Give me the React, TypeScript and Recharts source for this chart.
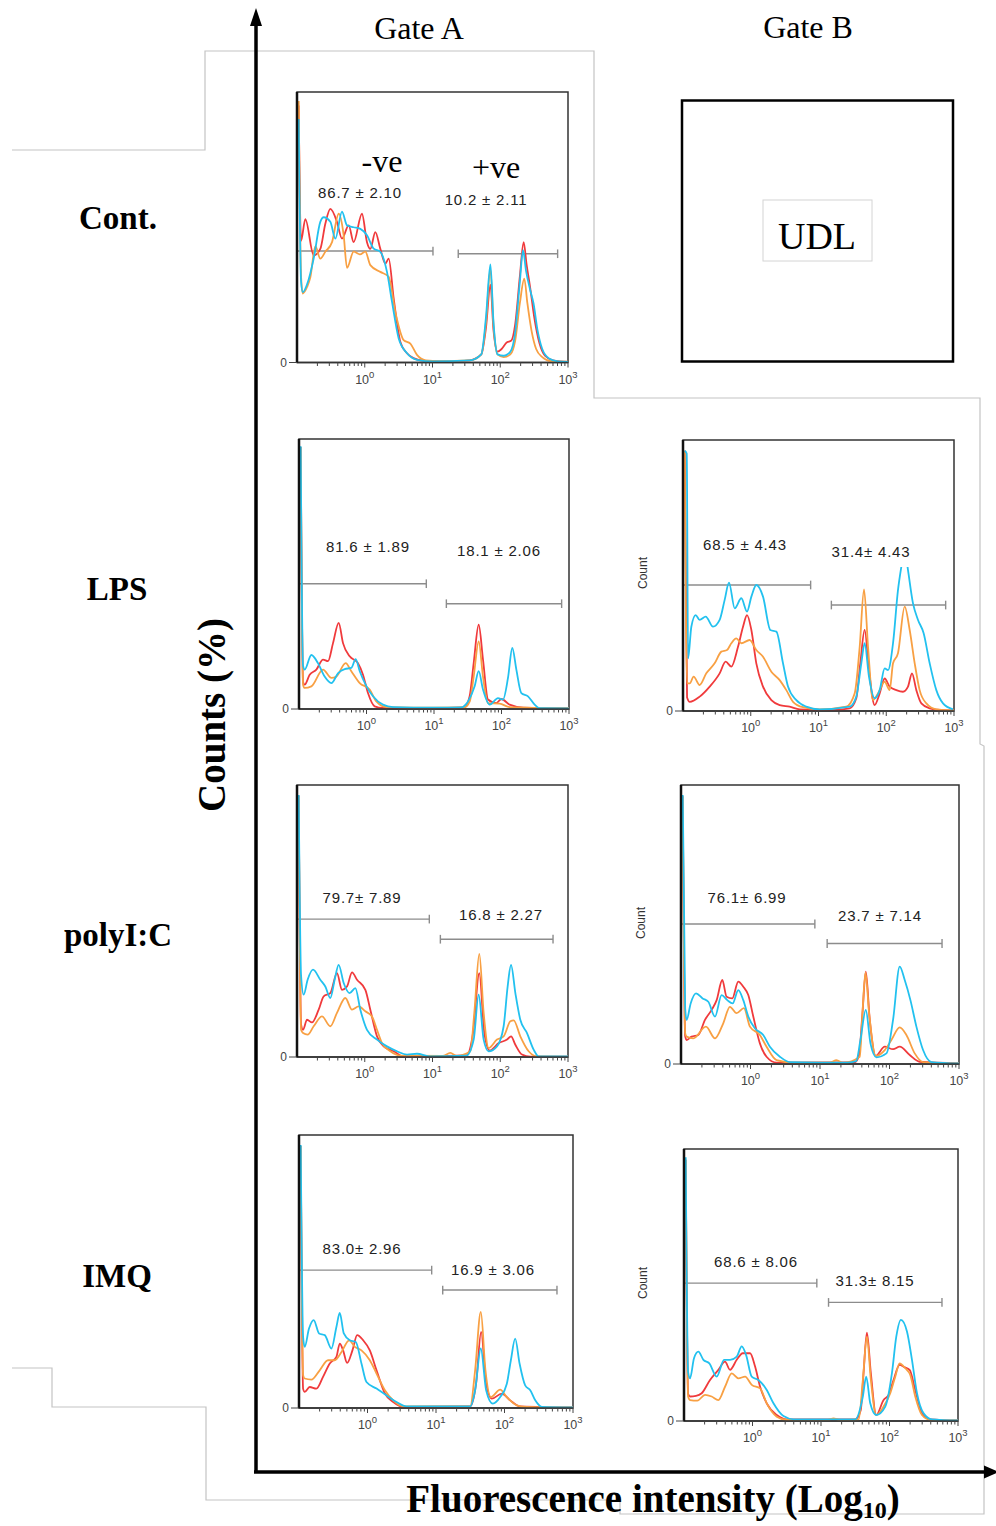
import React from "react";
import { LineChart, Line, XAxis, YAxis, ReferenceArea, ReferenceLine } from "recharts";

type Pt = [number, number];

const SANS = "'Liberation Sans', Arial, sans-serif";
const SERIF = "'Liberation Serif', 'Times New Roman', serif";
const RED = "#f03a3c";
const ORANGE = "#f8a043";
const CYAN = "#22c1ef";

// x = log10(fluorescence intensity), y = count (% of panel height)
const contA_red: Pt[] = [[-0.975, 95], [-0.94, 45], [-0.877, 53], [-0.754, 39.6], [-0.656, 42], [-0.582, 51.3], [-0.508, 56.8], [-0.41, 52], [-0.336, 45.8], [-0.237, 50.7], [-0.164, 44.5], [-0.041, 55], [0.033, 44.5], [0.082, 42], [0.156, 48.2], [0.23, 42], [0.304, 36.6], [0.353, 38.4], [0.427, 23.7], [0.525, 7.7], [0.62, 3.5], [0.72, 1.6], [0.9, 0.5], [1.3, 0.4], [1.55, 0.8], [1.72, 3], [1.79, 13], [1.855, 28.8], [1.9, 12], [1.96, 4], [2.02, 5], [2.1, 7.5], [2.16, 8], [2.22, 14], [2.29, 32], [2.345, 44.5], [2.39, 36], [2.44, 28], [2.5, 17], [2.58, 7], [2.66, 2.5], [2.78, 0.8], [3, 0.2]];
const contA_orange: Pt[] = [[-0.975, 96.7], [-0.94, 32], [-0.915, 25.5], [-0.85, 28], [-0.803, 31.5], [-0.729, 43], [-0.656, 38.4], [-0.58, 41], [-0.483, 44.5], [-0.385, 55], [-0.311, 47], [-0.262, 35], [-0.164, 41], [-0.07, 40], [0.009, 41], [0.082, 36], [0.23, 33.5], [0.353, 31.7], [0.451, 18.7], [0.574, 8.3], [0.673, 7], [0.771, 2.8], [0.9, 0.8], [1.1, 0.5], [1.55, 0.8], [1.72, 3], [1.79, 15], [1.855, 34.4], [1.9, 14], [1.96, 3], [2.05, 2], [2.15, 3], [2.22, 8], [2.29, 22], [2.355, 31], [2.4, 22], [2.46, 12], [2.53, 5], [2.62, 2], [2.75, 0.5], [3, 0.3]];
const contA_cyan: Pt[] = [[-0.975, 90], [-0.94, 30], [-0.915, 26], [-0.85, 29], [-0.754, 38.4], [-0.656, 52], [-0.606, 53.7], [-0.508, 52], [-0.434, 45.8], [-0.336, 55.8], [-0.262, 50.7], [-0.164, 50], [-0.065, 49.4], [0.033, 47], [0.132, 42.1], [0.23, 40.9], [0.328, 33.5], [0.402, 22.5], [0.5, 9], [0.624, 3.4], [0.77, 1], [1.0, 0.4], [1.55, 0.8], [1.72, 3], [1.79, 17], [1.855, 36.3], [1.9, 15], [1.96, 3], [2.05, 2.5], [2.15, 4], [2.22, 11], [2.29, 30], [2.336, 41.5], [2.38, 34], [2.44, 27], [2.49, 22], [2.55, 12], [2.62, 5], [2.72, 1.5], [2.85, 0.4], [3, 0.2]];

const lpsA_red: Pt[] = [[-0.975, 97], [-0.94, 10], [-0.916, 9], [-0.842, 12.7], [-0.743, 14.6], [-0.644, 18.3], [-0.57, 17.7], [-0.496, 24.4], [-0.412, 31.9], [-0.348, 24.4], [-0.249, 19.5], [-0.126, 17], [-0.052, 12.7], [0.022, 5.9], [0.121, 1], [0.244, 0.4], [1.0, 0.3], [1.45, 0.6], [1.528, 4.7], [1.588, 17], [1.662, 31.2], [1.726, 18.3], [1.8, 3.5], [1.923, 2.2], [1.998, 3.7], [2.121, 1.6], [2.32, 0.5], [3, 0.3]];
const lpsA_orange: Pt[] = [[-0.975, 97], [-0.94, 9], [-0.916, 7.8], [-0.817, 8.4], [-0.644, 14.6], [-0.52, 11.5], [-0.447, 12], [-0.309, 17], [-0.225, 14], [-0.1, 9.6], [0.047, 7.2], [0.146, 2.8], [0.294, 0.7], [1.0, 0.5], [1.45, 0.6], [1.53, 2.8], [1.588, 12], [1.662, 25], [1.726, 12], [1.8, 2.2], [1.973, 2], [2.12, 0.7], [3, 0.3]];
const lpsA_cyan: Pt[] = [[-0.975, 97.3], [-0.94, 16], [-0.916, 14.6], [-0.817, 20], [-0.719, 17], [-0.62, 12], [-0.52, 9.6], [-0.42, 13.3], [-0.323, 14.8], [-0.225, 15.2], [-0.16, 18.5], [-0.1, 14], [0.0, 8.4], [0.096, 4.7], [0.244, 1.6], [0.393, 0.7], [1.0, 0.5], [1.4, 0.6], [1.504, 2.8], [1.602, 8.4], [1.662, 14], [1.726, 7.2], [1.825, 1.6], [1.948, 4], [2.022, 3.5], [2.096, 11.5], [2.16, 22.6], [2.22, 14.6], [2.294, 5.9], [2.393, 4.7], [2.491, 1.6], [2.565, 0.3], [3, 0.2]];

const lpsB_red: Pt[] = [[-0.975, 96], [-0.94, 5], [-0.9, 3.4], [-0.754, 5.3], [-0.606, 9], [-0.459, 13.9], [-0.37, 18.2], [-0.287, 16.4], [-0.188, 23.7], [-0.114, 31.1], [-0.055, 35.4], [0.009, 29.9], [0.082, 17.6], [0.181, 9], [0.304, 4], [0.427, 2.2], [0.574, 1.6], [0.722, 0.6], [1.2, 0.4], [1.46, 1], [1.558, 4.7], [1.617, 17.6], [1.681, 29.9], [1.745, 15.1], [1.829, 2.2], [1.903, 6.5], [1.977, 12], [2.05, 9], [2.149, 7.7], [2.247, 7.1], [2.321, 9], [2.38, 13.9], [2.444, 7.7], [2.518, 2.8], [2.641, 1], [2.788, 0.4], [3, 0.2]];
const lpsB_orange: Pt[] = [[-0.975, 96], [-0.94, 10.2], [-0.9, 10.2], [-0.843, 12.7], [-0.754, 9.6], [-0.656, 13.9], [-0.533, 17.6], [-0.434, 21.9], [-0.35, 22.5], [-0.287, 25], [-0.213, 26.8], [-0.139, 25], [-0.016, 26.2], [0.082, 22.5], [0.181, 20], [0.304, 14.5], [0.427, 11.4], [0.525, 7.7], [0.624, 3.4], [0.771, 1.4], [1.017, 0.6], [1.41, 1.6], [1.534, 6.5], [1.608, 23.7], [1.672, 44.9], [1.731, 23.7], [1.804, 4], [1.878, 6.5], [1.977, 10.8], [2.05, 7.7], [2.1, 17.6], [2.173, 21.3], [2.272, 38.5], [2.346, 29.9], [2.42, 17.6], [2.493, 7.7], [2.592, 2.8], [2.739, 0.6], [3, 0.2]];
const lpsB_cyan: Pt[] = [[-0.975, 96], [-0.945, 95], [-0.925, 19.4], [-0.877, 31.1], [-0.813, 35.4], [-0.754, 33.6], [-0.665, 34.8], [-0.557, 31.1], [-0.459, 33.6], [-0.385, 41], [-0.321, 47.4], [-0.237, 37.9], [-0.139, 41.6], [-0.055, 36.7], [0.009, 42.2], [0.082, 46.5], [0.181, 42.2], [0.289, 29.9], [0.378, 29.3], [0.476, 17.6], [0.55, 9], [0.673, 4], [0.82, 1.6], [1.017, 0.6], [1.46, 1.6], [1.558, 5.3], [1.632, 17.6], [1.681, 25], [1.745, 12.7], [1.829, 4.7], [1.903, 7.7], [1.977, 15.7], [2.026, 15.1], [2.1, 25], [2.173, 44.6], [2.223, 53.3], [2.272, 60], [2.321, 52], [2.395, 39.7], [2.469, 33.6], [2.552, 28.7], [2.641, 17.6], [2.739, 7.7], [2.838, 2.8], [2.985, 0.6]];

const polyA_red: Pt[] = [[-0.975, 96], [-0.94, 12], [-0.911, 10], [-0.852, 13.7], [-0.779, 12.7], [-0.68, 17.4], [-0.606, 22.3], [-0.508, 23.5], [-0.41, 30.8], [-0.336, 24.7], [-0.262, 25.9], [-0.188, 31.1], [-0.114, 28.4], [0.009, 24.7], [0.082, 17.4], [0.181, 7.6], [0.279, 3.9], [0.427, 2.1], [0.574, 0.2], [1.5, 0.6], [1.598, 8.8], [1.691, 30.8], [1.765, 8.8], [1.844, 2.4], [1.977, 5.1], [2.1, 6.4], [2.159, 7.6], [2.223, 4.5], [2.321, 0.9], [2.444, 0.1], [3, 0.1]];
const polyA_orange: Pt[] = [[-0.975, 96], [-0.94, 10], [-0.911, 8.8], [-0.843, 8.2], [-0.754, 11.3], [-0.631, 14.9], [-0.508, 11.3], [-0.41, 16.2], [-0.287, 21.7], [-0.188, 17.4], [-0.09, 18.6], [0.009, 16.8], [0.107, 14.9], [0.181, 10], [0.255, 5.1], [0.378, 2.1], [0.525, 0.5], [1.15, 0.4], [1.263, 1.5], [1.36, 0.4], [1.558, 2.1], [1.617, 16.2], [1.691, 37.9], [1.755, 16.2], [1.829, 3.3], [1.952, 6.4], [2.05, 7.6], [2.149, 13.1], [2.198, 13.5], [2.296, 7.6], [2.419, 2.1], [2.542, 0.2], [3, 0.1]];
const polyA_cyan: Pt[] = [[-0.975, 96.3], [-0.94, 30], [-0.902, 22.9], [-0.843, 28.4], [-0.764, 32.1], [-0.656, 28.4], [-0.582, 25.9], [-0.508, 21.7], [-0.444, 28.4], [-0.385, 33.9], [-0.311, 27.2], [-0.223, 23.5], [-0.139, 25.3], [-0.065, 17.4], [0.033, 10], [0.181, 6.4], [0.328, 3.9], [0.476, 2.1], [0.624, 0.9], [0.771, 1.2], [0.968, 0.2], [1.5, 0.5], [1.608, 6.4], [1.681, 22.9], [1.755, 6.4], [1.829, 2.1], [1.952, 3.9], [2.05, 11.3], [2.109, 25.9], [2.159, 33.9], [2.223, 23.5], [2.296, 13.7], [2.395, 8.8], [2.493, 2.7], [2.567, 0.2], [3, 0.2]];

const polyB_red: Pt[] = [[-0.975, 96], [-0.94, 10], [-0.919, 8.6], [-0.847, 9.8], [-0.751, 10.4], [-0.655, 15.8], [-0.559, 19.4], [-0.487, 22.9], [-0.406, 30.1], [-0.344, 24.1], [-0.262, 23.5], [-0.176, 29.5], [-0.104, 27.7], [-0.032, 24.7], [0.04, 17], [0.135, 7.4], [0.231, 2.6], [0.375, 0.5], [1.5, 0.6], [1.56, 3], [1.611, 18.2], [1.659, 33.1], [1.716, 15.8], [1.802, 2.9], [1.932, 6.2], [2.051, 5.3], [2.147, 6.2], [2.291, 3.2], [2.435, 0.8], [3, 0.2]];
const polyB_orange: Pt[] = [[-0.975, 96], [-0.94, 11], [-0.919, 9.8], [-0.823, 9.2], [-0.641, 13.4], [-0.511, 9.2], [-0.392, 14.6], [-0.296, 20.5], [-0.2, 18.2], [-0.095, 20], [-0.008, 13.4], [0.135, 10.4], [0.231, 6.2], [0.375, 1.4], [0.614, 0.5], [1.15, 0.5], [1.237, 1.4], [1.33, 0.4], [1.572, 2.6], [1.611, 18.2], [1.654, 32.7], [1.707, 18.2], [1.802, 2.9], [1.932, 5], [2.027, 8.6], [2.147, 13.1], [2.243, 10.4], [2.363, 3.8], [2.483, 0.7], [3, 0.2]];
const polyB_cyan: Pt[] = [[-0.975, 96.4], [-0.94, 20], [-0.919, 15.8], [-0.861, 21.7], [-0.784, 25.3], [-0.689, 23.5], [-0.607, 22.3], [-0.511, 17], [-0.416, 24.7], [-0.334, 22.9], [-0.257, 21.7], [-0.176, 26.5], [-0.104, 22.9], [-0.032, 17], [0.063, 12.8], [0.183, 10.4], [0.279, 6.2], [0.423, 2.6], [0.566, 0.7], [1.4, 0.5], [1.52, 1], [1.582, 8.6], [1.659, 19.4], [1.726, 7.4], [1.812, 2.4], [1.956, 3.8], [2.051, 15.8], [2.147, 34.9], [2.219, 30.1], [2.301, 22.9], [2.387, 13.4], [2.483, 5], [2.602, 0.7], [3, 0.2]];

const imqA_red: Pt[] = [[-0.975, 96], [-0.94, 7], [-0.917, 5.9], [-0.844, 7.7], [-0.746, 7.1], [-0.649, 11.4], [-0.551, 16.3], [-0.454, 18.7], [-0.405, 23.6], [-0.356, 21.1], [-0.298, 16.5], [-0.22, 21.1], [-0.151, 26.7], [-0.063, 24.8], [0.034, 21.1], [0.132, 13.8], [0.254, 5.3], [0.376, 2.2], [0.522, 0.4], [1.5, 0.6], [1.585, 8.9], [1.659, 27.9], [1.732, 8.9], [1.815, 3.4], [1.961, 5.3], [2.083, 2.8], [2.229, 0.6], [3, 0.2]];
const imqA_orange: Pt[] = [[-0.975, 96], [-0.94, 12], [-0.917, 10.8], [-0.82, 10.4], [-0.698, 13.8], [-0.576, 17.5], [-0.478, 17.5], [-0.38, 20.5], [-0.268, 24.8], [-0.185, 22.4], [-0.088, 21.1], [0.034, 17.5], [0.132, 12.6], [0.254, 6.5], [0.376, 2.8], [0.522, 0.6], [1.5, 0.6], [1.571, 13.8], [1.654, 35.2], [1.722, 13.8], [1.8, 4], [1.937, 6.7], [2.034, 4], [2.18, 1], [2.327, 0.4], [3, 0.2]];
const imqA_cyan: Pt[] = [[-0.975, 96.3], [-0.94, 26], [-0.917, 22.4], [-0.854, 29.1], [-0.785, 32.2], [-0.707, 27.3], [-0.624, 26.7], [-0.527, 21.8], [-0.454, 29.7], [-0.405, 34.8], [-0.346, 27.3], [-0.259, 24.8], [-0.171, 24.2], [-0.088, 16.3], [-0.015, 9.5], [0.132, 7.1], [0.278, 4.6], [0.424, 2.2], [0.571, 0.6], [1.5, 0.6], [1.571, 6.5], [1.654, 21.8], [1.732, 6.5], [1.829, 1.6], [1.937, 4], [2.034, 8.9], [2.093, 17.5], [2.156, 25.4], [2.22, 16.3], [2.302, 8.3], [2.376, 6.5], [2.449, 2.8], [2.546, 0.4], [3, 0.2]];

const imqB_red: Pt[] = [[-0.975, 96], [-0.94, 10], [-0.912, 9], [-0.825, 9.2], [-0.742, 10.2], [-0.62, 15.1], [-0.498, 18.8], [-0.401, 21.8], [-0.328, 18.8], [-0.23, 22.5], [-0.143, 24.9], [-0.035, 24.9], [0.038, 20], [0.111, 12.6], [0.208, 6.5], [0.354, 2.2], [0.501, 0.6], [1.5, 0.6], [1.58, 4], [1.621, 17.5], [1.67, 32.5], [1.728, 17.5], [1.806, 2.2], [1.914, 7.7], [1.987, 9.6], [2.06, 15.1], [2.147, 20.6], [2.216, 19.8], [2.294, 18.8], [2.376, 11.4], [2.474, 2.8], [2.596, 0.6], [3, 0.2]];
const imqB_orange: Pt[] = [[-0.975, 96], [-0.94, 9], [-0.912, 7.7], [-0.805, 7.5], [-0.693, 9.6], [-0.596, 9], [-0.498, 7.7], [-0.401, 12.6], [-0.303, 17.5], [-0.206, 15.7], [-0.108, 16.3], [-0.011, 13.3], [0.111, 12], [0.208, 6.5], [0.354, 1.6], [0.5, 0.4], [1.1, 0.4], [1.183, 1], [1.27, 0.4], [1.55, 0.6], [1.611, 15.1], [1.67, 31], [1.728, 15.1], [1.806, 2.2], [1.914, 5.3], [2.011, 10.2], [2.084, 16.3], [2.147, 21.2], [2.23, 19.4], [2.303, 16.9], [2.376, 9], [2.474, 2.2], [2.596, 0.4], [3, 0.2]];
const imqB_cyan: Pt[] = [[-0.975, 97], [-0.94, 18], [-0.912, 15.7], [-0.854, 23.1], [-0.79, 25.5], [-0.717, 22.5], [-0.63, 21.2], [-0.523, 16.3], [-0.415, 22.5], [-0.328, 22.5], [-0.23, 23.7], [-0.157, 27.4], [-0.094, 24.3], [-0.011, 16.3], [0.086, 15.1], [0.208, 11.4], [0.306, 6.5], [0.452, 1.8], [0.598, 0.6], [1.5, 0.6], [1.611, 9], [1.66, 16.3], [1.719, 6.5], [1.806, 2.2], [1.938, 5.3], [2.035, 17.5], [2.099, 31], [2.167, 37.2], [2.255, 32.9], [2.328, 22.5], [2.401, 10.2], [2.498, 2.8], [2.62, 0.6], [3, 0.2]];

// panel order: Cont A, LPS A, LPS B, polyI:C A, polyI:C B, IMQ A, IMQ B
const redSeries = [contA_red, lpsA_red, lpsB_red, polyA_red, polyB_red, imqA_red, imqB_red];
const orangeSeries = [contA_orange, lpsA_orange, lpsB_orange, polyA_orange, polyB_orange, imqA_orange, imqB_orange];
const cyanSeries = [contA_cyan, lpsA_cyan, lpsB_cyan, polyA_cyan, polyB_cyan, imqA_cyan, imqB_cyan];

const negStats = ["86.7 \u00b1 2.10", "81.6 \u00b1 1.89", "68.5 \u00b1 4.43", "79.7\u00b1 7.89", "76.1\u00b1 6.99", "83.0\u00b1 2.96", "68.6 \u00b1 8.06"];
const posStats = ["10.2 \u00b1 2.11", "18.1 \u00b1 2.06", "31.4\u00b1 4.43", "16.8 \u00b1 2.27", "23.7 \u00b1 7.14", "16.9 \u00b1 3.06", "31.3\u00b1 8.15"];

// gate markers: [count level, upper bound] and [count level, lower bound, upper bound]
const negGates = [[41.2, 1.007], [46.4, 0.886], [46.5, 0.884], [50.7, 0.953], [50.2, 0.926], [50.5, 0.937], [50.7, 0.939]];
const posGates = [[40.2, 1.38, 2.847], [39, 1.183, 2.891], [39.1, 1.19, 2.877], [43.3, 1.116, 2.779], [43.2, 1.103, 2.756], [43.2, 1.098, 2.766], [43.6, 1.11, 2.766]];

const rowLabels = ["Cont.", "LPS", "polyI:C", "IMQ"];
const colLabels = ["Gate A", "Gate B"];

// layout (page pixels)
const boxes = [[297, 92, 568, 362.5], [299, 439, 569, 709], [683, 440, 954, 711], [297, 785, 568, 1057], [681, 785, 959, 1064], [299, 1135, 573, 1408], [684, 1149, 958, 1421]];
const negLabelAt = [[360, 198], [368, 552], [745, 550], [362, 903], [747, 903], [362, 1254], [756, 1267]];
const posLabelAt = [[486, 205], [499, 556], [871, 557], [501, 920], [880, 921], [493, 1275], [875, 1286]];
const countAt = [[647, 573], [645, 923], [647, 1283]];
const rowLabelAt = [[118, 229], [117, 600], [118, 946], [117, 1287]];
const colLabelAt = [[419, 39], [808, 38]];

const logTicks: number[] = [];
for (let d = -1; d < 3; d++) {
  for (let k = 2; k <= 9; k++) logTicks.push(d + Math.log10(k));
  logTicks.push(d + 1);
}

const toRows = (pts: Pt[]) => pts.map(([e, c]) => ({ e, c }));

function LogTick(props: any) {
  const { x, y, payload } = props;
  const v = payload.value as number;
  const major = Math.abs(v - Math.round(v)) < 1e-6;
  return (
    <g>
      <line x1={x} x2={x} y1={y} y2={y + (major ? 5 : 3.5)} stroke="#444" strokeWidth={1} />
      {major && (
        <text x={x} y={y + 21} textAnchor="middle" fontSize={12.5} fill="#444" fontFamily={SANS}>
          <tspan>10</tspan>
          <tspan dy={-6} fontSize={9.5}>{Math.round(v)}</tspan>
        </text>
      )}
    </g>
  );
}

function Panel({ idx }: { idx: number }) {
  const [L, T, R, B] = boxes[idx];
  const [ny, nx] = negGates[idx];
  const [py, px1, px2] = posGates[idx];
  const cap = 1.6;
  const gate = { stroke: "#8c8c8c", strokeWidth: 1.4 };
  return (
    <div style={{ position: "absolute", left: L - 36, top: T - 10 }}>
      <LineChart width={R - L + 56} height={B - T + 44} margin={{ top: 10, right: 20, bottom: 0, left: 20 }}>
        <XAxis
          dataKey="e"
          type="number"
          domain={[-1, 3]}
          allowDataOverflow
          ticks={logTicks}
          interval={0}
          tick={<LogTick />}
          tickLine={false}
          tickSize={0}
          tickMargin={0}
          height={34}
          axisLine={{ stroke: "#333", strokeWidth: 1.5 }}
        />
        <YAxis
          type="number"
          domain={[0, 100]}
          allowDataOverflow
          ticks={[0]}
          width={16}
          tickSize={8}
          tickMargin={2}
          tick={{ fontSize: 12, fill: "#444", fontFamily: SANS }}
          tickLine={{ stroke: "#444" }}
          axisLine={{ stroke: "#111", strokeWidth: 2.5 }}
        />
        <ReferenceArea x1={-1} x2={3} y1={0} y2={100} fill="none" fillOpacity={0} stroke="#333" strokeWidth={1.5} />
        <ReferenceLine segment={[{ x: -1, y: ny }, { x: nx, y: ny }]} {...gate} />
        <ReferenceLine segment={[{ x: nx, y: ny - cap }, { x: nx, y: ny + cap }]} {...gate} />
        <ReferenceLine segment={[{ x: px1, y: py }, { x: px2, y: py }]} {...gate} />
        <ReferenceLine segment={[{ x: px1, y: py - cap }, { x: px1, y: py + cap }]} {...gate} />
        <ReferenceLine segment={[{ x: px2, y: py - cap }, { x: px2, y: py + cap }]} {...gate} />
        <Line data={toRows(redSeries[idx])} dataKey="c" type="monotone" stroke={RED} strokeWidth={1.8} dot={false} isAnimationActive={false} />
        <Line data={toRows(orangeSeries[idx])} dataKey="c" type="monotone" stroke={ORANGE} strokeWidth={1.8} dot={false} isAnimationActive={false} />
        <Line data={toRows(cyanSeries[idx])} dataKey="c" type="monotone" stroke={CYAN} strokeWidth={1.8} dot={false} isAnimationActive={false} />
      </LineChart>
    </div>
  );
}

export default function App() {
  const statStyle = { fontFamily: SANS, fontSize: 15, fill: "#222", letterSpacing: 0.8 } as const;
  return (
    <div style={{ position: "absolute", left: 0, top: 0, width: 996, height: 1526, background: "#fff", overflow: "hidden" }}>
      {boxes.map((_, i) => (
        <Panel key={i} idx={i} />
      ))}
      <svg width={996} height={1526} style={{ position: "absolute", left: 0, top: 0, pointerEvents: "none" }}>
        <polyline
          points="12,150 205,150 205,51 594,51 594,398 980,398 980,744 984,746 984,1514 620,1514 620,1500 206,1500 206,1407 52,1407 52,1368 12,1368"
          fill="none"
          stroke="#c4c4c4"
          strokeWidth={1.2}
        />
        {/* axes arrows */}
        <line x1={256} y1={1472} x2={256} y2={22} stroke="#000" strokeWidth={3.5} />
        <polygon points="256,8 250,26 262,26" fill="#000" />
        <line x1={254} y1={1472} x2={986} y2={1472} stroke="#000" strokeWidth={3.5} />
        <polygon points="999,1472 984,1465.5 984,1478.5" fill="#000" />

        <text
          x={225}
          y={715}
          transform="rotate(-90, 225, 715)"
          textAnchor="middle"
          fontFamily={SERIF}
          fontWeight="bold"
          fontSize={39}
        >
          Counts (%)
        </text>
        <text x={653} y={1512} textAnchor="middle" fontFamily={SERIF} fontWeight="bold" fontSize={39}>
          Fluorescence intensity (Log
          <tspan dy={6} fontSize={24}>10</tspan>
          <tspan dy={-6}>)</tspan>
        </text>

        {colLabels.map((t, i) => (
          <text key={t} x={colLabelAt[i][0]} y={colLabelAt[i][1]} textAnchor="middle" fontFamily={SERIF} fontSize={32}>
            {t}
          </text>
        ))}
        {rowLabels.map((t, i) => (
          <text key={t} x={rowLabelAt[i][0]} y={rowLabelAt[i][1]} textAnchor="middle" fontFamily={SERIF} fontWeight="bold" fontSize={33}>
            {t}
          </text>
        ))}

        {/* Gate B control: under detection limit */}
        <rect x={682} y={100.5} width={271} height={261} fill="none" stroke="#000" strokeWidth={2.5} />
        <rect x={763} y={200} width={109} height={61} fill="#fff" stroke="#d4d4d4" strokeWidth={1} />
        <text x={817} y={249} textAnchor="middle" fontFamily={SERIF} fontSize={38}>
          UDL
        </text>

        <text x={382} y={172} textAnchor="middle" fontFamily={SERIF} fontSize={32}>-ve</text>
        <text x={496} y={178} textAnchor="middle" fontFamily={SERIF} fontSize={32}>+ve</text>

        <rect x={826} y={539} width={92} height={28} fill="#fff" />
        {negStats.map((t, i) => (
          <text key={"n" + i} x={negLabelAt[i][0]} y={negLabelAt[i][1]} textAnchor="middle" {...statStyle}>
            {t}
          </text>
        ))}
        {posStats.map((t, i) => (
          <text key={"p" + i} x={posLabelAt[i][0]} y={posLabelAt[i][1]} textAnchor="middle" {...statStyle}>
            {t}
          </text>
        ))}
        {countAt.map(([x, y], i) => (
          <text key={"c" + i} x={x} y={y} transform={`rotate(-90, ${x}, ${y})`} textAnchor="middle" fontFamily={SANS} fontSize={12} fill="#333">
            Count
          </text>
        ))}
      </svg>
    </div>
  );
}
